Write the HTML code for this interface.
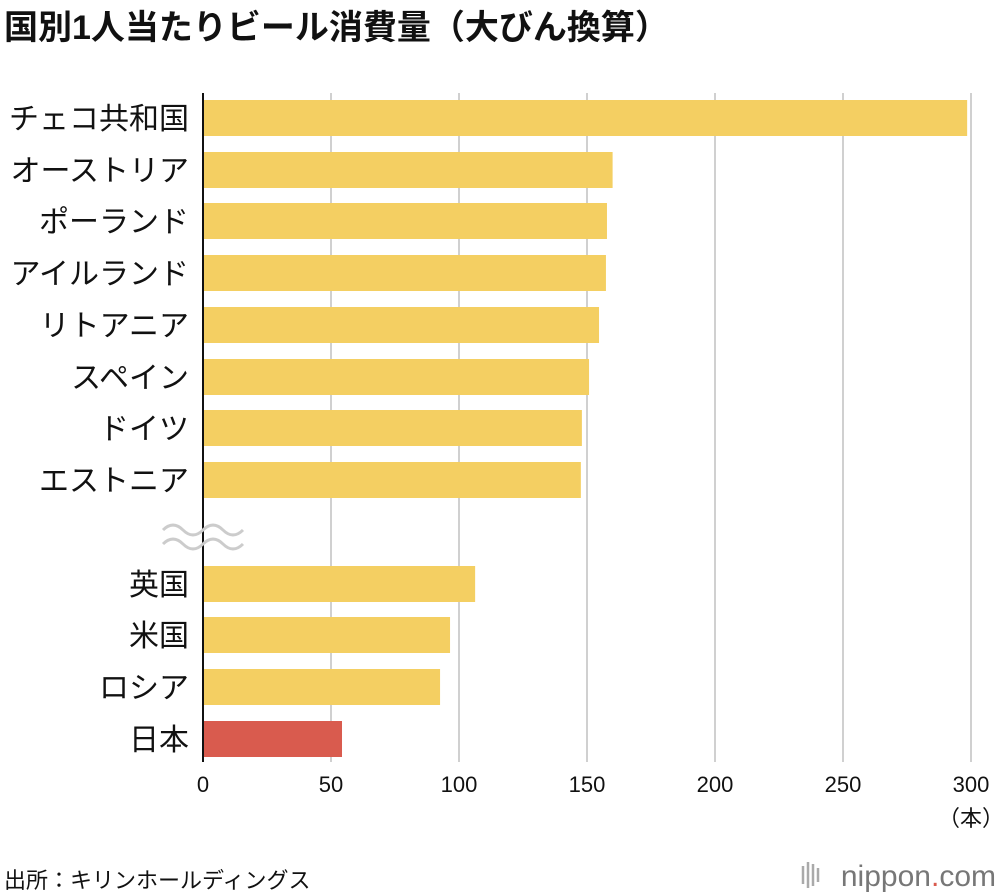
<!DOCTYPE html>
<html><head><meta charset="utf-8">
<style>
body{margin:0;background:#fff;width:1000px;height:896px;overflow:hidden;font-family:"Liberation Sans","Noto Sans CJK JP",sans-serif;}
#title{position:absolute;left:4px;top:0px;font-size:34px;font-weight:bold;color:#111;letter-spacing:0px;}
svg{position:absolute;left:0;top:0;}
</style></head><body>
<div id="title">国別1人当たりビール消費量（大びん換算）</div>
<svg id="chart" width="1000" height="896"></svg>
<script>
const categories=["チェコ共和国","オーストリア","ポーランド","アイルランド","リトアニア","スペイン","ドイツ","エストニア","英国","米国","ロシア","日本"];
const values=[298.5,160,157.8,157.4,154.7,150.8,148,147.6,106.3,96.5,92.6,54.3];
const ticks=[0,50,100,150,200,250,300];
const NS="http://www.w3.org/2000/svg";
const svg=document.getElementById('chart');
const x0=203,scale=2.56;
const xf=v=>x0+v*scale;
const rowTop=[100,152,203,255,307,359,410,462,566,617,669,721];
const yf=i=>rowTop[i];
function mk(t,a){const e=document.createElementNS(NS,t);for(const k in a)e.setAttribute(k,a[k]);svg.appendChild(e);return e;}
ticks.forEach((t,i)=>{
  if(t>0){const g=mk('line',{x1:xf(t),x2:xf(t),y1:93,y2:762,stroke:'#d0d0d0','stroke-width':2});
  
  }
  const tx=mk('text',{x:xf(t),y:792,'text-anchor':'middle','font-size':22,fill:'#111'});
  tx.textContent=t;
  
  
});
const unit=mk('text',{x:xf(300),y:826,'text-anchor':'middle','font-size':22,fill:'#111'});
unit.textContent='（本）';


categories.forEach((c,i)=>{
  const r=mk('rect',{x:x0,y:yf(i),width:values[i]*scale,height:36,fill:c==='日本'?'#d95b4e':'#f4cf62'});
  
  
  const l=mk('text',{x:189,y:yf(i)+29,'text-anchor':'end','font-size':30,fill:'#111'});
  l.textContent=c;
  
  
});
const ax=mk('line',{x1:x0,x2:x0,y1:93,y2:762,stroke:'#111','stroke-width':2});


const br=mk('path',{d:'M163 530 q10 -10 20 0 t20 0 t20 0 t20 0 M163 544 q10 -10 20 0 t20 0 t20 0 t20 0',stroke:'#ccc','stroke-width':3,fill:'none'});


const src=mk('text',{x:4,y:888,'font-size':22,fill:'#111'});
src.textContent='出所：キリンホールディングス';


const icon=mk('path',{d:'M803 866v18M808 862v26M813 864v22M818 868v14',stroke:'#aaa','stroke-width':2.5});


const logo=mk('text',{x:996,y:886,'text-anchor':'end','font-size':30,fill:'#777'});
logo.innerHTML='<tspan>nippon</tspan><tspan fill="#d95b4e">.</tspan><tspan>com</tspan>';


</script>
</body></html>
